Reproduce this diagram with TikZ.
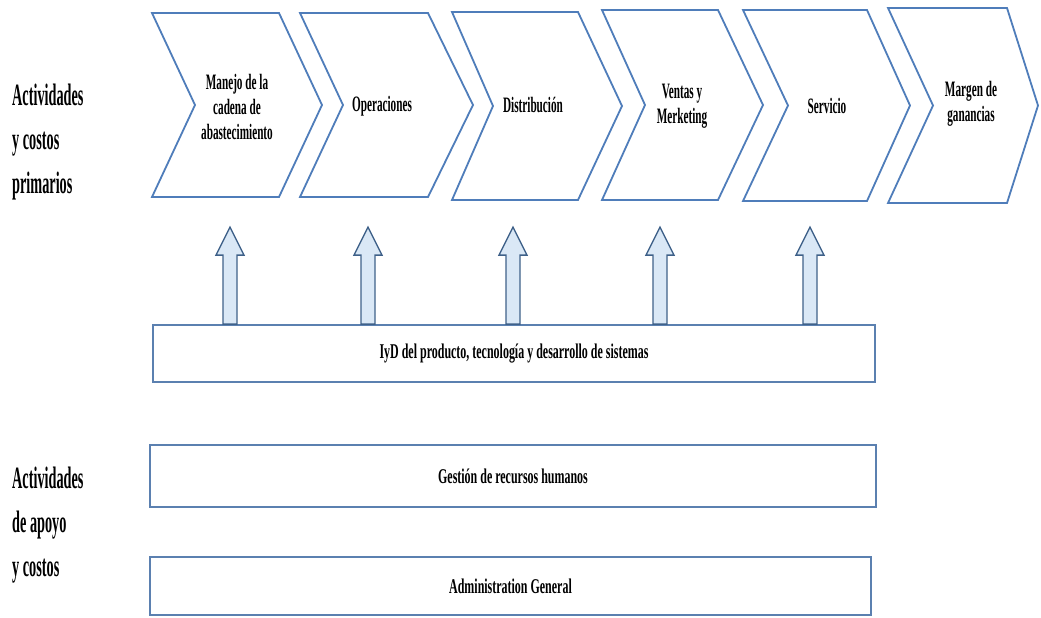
\documentclass[tikz,border=0pt]{standalone}
\usepackage{fontspec}
\setmainfont{Liberation Serif}
\newfontfamily\sidefont[FakeStretch=0.46]{Liberation Serif}
\newfontfamily\chevfont[FakeStretch=0.51]{Liberation Serif}
\newfontfamily\barfont[FakeStretch=0.57]{Liberation Serif}
\definecolor{chevblue}{HTML}{4F7DBA}
\definecolor{barblue}{HTML}{5B80B0}
\definecolor{arrowedge}{HTML}{3F6189}
\definecolor{arrowfill}{HTML}{DAE8F6}
\begin{document}
\begin{tikzpicture}[x=1pt,y=-1pt,
  chev/.style={draw=chevblue, line width=1.8pt, fill=white, line join=miter},
  chevtext/.style={font=\chevfont\bfseries\fontsize{22}{25}\selectfont, align=center, inner sep=0pt},
  sidetext/.style={font=\sidefont\bfseries\fontsize{31}{44}\selectfont, align=left, inner sep=0pt, anchor=base west},
  barbox/.style={draw=barblue, line width=1.8pt, fill=white, inner sep=0pt,
    font=\barfont\bfseries\fontsize{21}{24}\selectfont},
  uparrow/.style={draw=arrowedge, fill=arrowfill, line width=1.3pt, line join=miter}]
\useasboundingbox (0,0) rectangle (1041,618);

% primary activities as chevrons: left, top-right, notch, tip, top, bottom
\foreach \L/\R/\N/\T/\ta/\tb in {152/279/195/322/13/197, 300/428/343/473/13/197,
    452/578/493/622/12/200, 602/718/645/763/10/200, 743/867/788/910/10/201,
    888/1007/933/1038/8/203}{
  \draw[chev] (\L,\ta) -- (\R,\ta) -- (\T,{(\ta+\tb)/2}) -- (\R,\tb) -- (\L,\tb)
    -- (\N,{(\ta+\tb)/2}) -- cycle;
}
\node[chevtext] (c1) at (237,107) {Manejo de la\\cadena de\\abastecimiento};
\node[chevtext, anchor=base] (c2) at (382,111) {Operaciones};
\node[chevtext, anchor=base] (c3) at (533,112) {Distribución};
\node[chevtext] (c4) at (682,106) {Ventas y\\Merketing};
\node[chevtext, anchor=base] (c5) at (827,113) {Servicio};
\node[chevtext] (c6) at (971,104) {Margen de\\ganancias};

% side captions (anchored on the baseline of the last line)
\node[sidetext] (lp) at (12,193) {Actividades\\y costos\\primarios};
\node[sidetext] (ls) at (12,576) {Actividades\\de apoyo\\y costos};

% support activities
\node[barbox, minimum width=722pt, minimum height=57pt] (iyd) at (514,353.5)
  {IyD del producto, tecnología y desarrollo de sistemas};

% block arrows from the R&D bar up towards the chevrons
\foreach \x in {230,368,513,660,810}{
  \draw[uparrow] (\x,0 |- iyd.north) ++(-7,0) -- ++(0,-69) -- ++(-7,0) -- ++(14,-28)
    -- ++(14,28) -- ++(-7,0) -- ++(0,69) -- cycle;
}

\node[barbox, minimum width=726pt, minimum height=62pt] (rh) at (513,476)
  {Gestión de recursos humanos};
\node[barbox, minimum width=721pt, minimum height=58pt] (adm) at (510.5,586)
  {Administration General};
\end{tikzpicture}
\end{document}
